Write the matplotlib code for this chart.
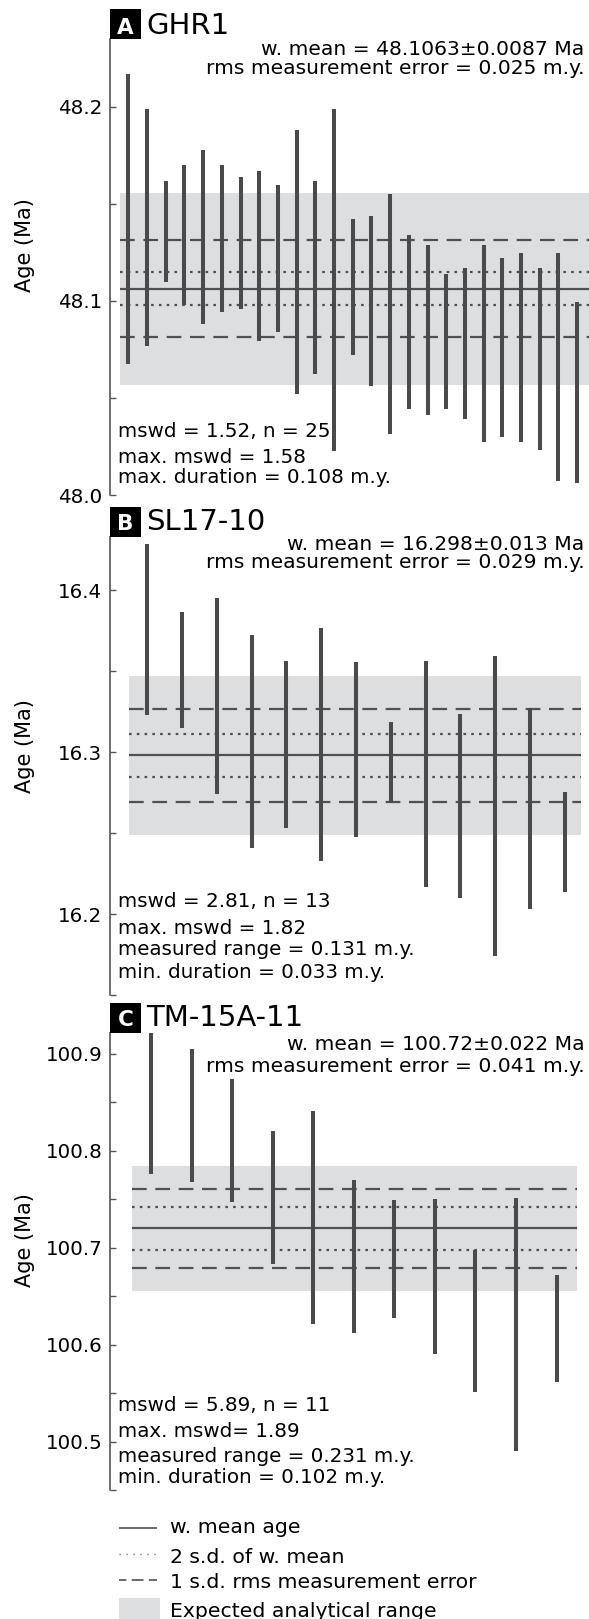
import matplotlib
matplotlib.use("Agg")
import matplotlib.pyplot as plt
from matplotlib.patches import Rectangle
from matplotlib.lines import Line2D

plt.rcParams['font.family'] = ['DejaVu Sans']
plt.rcParams['lines.scale_dashes'] = False

# ---------------- data ----------------
ghr1_upper = [48.2168, 48.1988, 48.1617, 48.1700, 48.1777, 48.1700, 48.1638, 48.1669,
              48.1597, 48.1878, 48.1617, 48.1988, 48.1420, 48.1439, 48.1549, 48.1339,
              48.1288, 48.1138, 48.1168, 48.1288, 48.1219, 48.1248, 48.1168, 48.1248, 48.0996]
ghr1_lower = [48.0673, 48.0769, 48.1099, 48.0979, 48.0881, 48.0941, 48.0958, 48.0793,
              48.0841, 48.0520, 48.0622, 48.0228, 48.0721, 48.0561, 48.0313, 48.0441,
              48.0412, 48.0441, 48.0390, 48.0271, 48.0300, 48.0271, 48.0232, 48.0074, 48.0063]
ghr1_mean = 48.1063
ghr1_sd2 = 0.0087
ghr1_rms = 0.025
ghr1_band = [48.0567, 48.1557]
ghr1_major = [48.0, 48.1, 48.2]
ghr1_minor = [48.05, 48.15]
ghr1_ylim = [48.0, 48.2347]
ghr1_title = ["A", "GHR1"]
ghr1_head = ["w. mean = 48.1063±0.0087 Ma", "rms measurement error = 0.025 m.y."]
ghr1_stats = ["mswd = 1.52, n = 25", "max. mswd = 1.58", "max. duration = 0.108 m.y."]

sl17_upper = [16.4286, 16.3865, 16.3956, 16.3725, 16.3566, 16.3766, 16.3556, 16.3185,
              16.3566, 16.3237, 16.3597, 16.3276, 16.2756]
sl17_lower = [16.3229, 16.3148, 16.2740, 16.2410, 16.2530, 16.2330, 16.2478, 16.2688,
              16.2169, 16.2101, 16.1741, 16.2030, 16.2138]
sl17_mean = 16.298
sl17_sd2 = 0.013
sl17_rms = 0.029
sl17_band = [16.249, 16.347]
sl17_major = [16.2, 16.3, 16.4]
sl17_minor = [16.15, 16.25, 16.35]
sl17_ylim = [16.15, 16.433]
sl17_title = ["B", "SL17-10"]
sl17_head = ["w. mean = 16.298±0.013 Ma", "rms measurement error = 0.029 m.y."]
sl17_stats = ["mswd = 2.81, n = 13", "max. mswd = 1.82", "measured range = 0.131 m.y.",
              "min. duration = 0.033 m.y."]

tm15_upper = [100.9212, 100.9047, 100.8737, 100.8207, 100.8410, 100.7698, 100.7492,
              100.7499, 100.6976, 100.7510, 100.6718]
tm15_lower = [100.7757, 100.7675, 100.7468, 100.6832, 100.6213, 100.6123, 100.6271,
              100.5903, 100.5511, 100.4905, 100.5617]
tm15_mean = 100.72
tm15_sd2 = 0.022
tm15_rms = 0.041
tm15_band = [100.6556, 100.7846]
tm15_major = [100.5, 100.6, 100.7, 100.8, 100.9]
tm15_minor = [100.45, 100.55, 100.65, 100.75, 100.85]
tm15_ylim = [100.45, 100.9212]
tm15_title = ["C", "TM-15A-11"]
tm15_head = ["w. mean = 100.72±0.022 Ma", "rms measurement error = 0.041 m.y."]
tm15_stats = ["mswd = 5.89, n = 11", "max. mswd= 1.89", "measured range = 0.231 m.y.",
              "min. duration = 0.102 m.y."]

legend_labels = ["w. mean age", "2 s.d. of w. mean", "1 s.d. rms measurement error",
                 "Expected analytical range"]

# ---------------- layout (pixels) ----------------
W, H = 589, 1619
BAR_C = '#4a4a4a'
LINE_C = '#505050'
BAND_C = '#dddee0'
SPINE_C = '#555555'
FS = 14.3


def fx(p):
    return p / W


def fy(p):
    return 1 - p / H


panels = [
    dict(upper=ghr1_upper, lower=ghr1_lower, mean=ghr1_mean, sd2=ghr1_sd2, rms=ghr1_rms,
         band=ghr1_band, major=ghr1_major, minor=ghr1_minor, ylim=ghr1_ylim,
         title=ghr1_title, head=ghr1_head, stats=ghr1_stats,
         top=39.3, bottom=495, first=128.3, step=18.7, bandpx=(119.6, 589),
         boxtop=9.3, tbase=33.5, hbase=(55, 74), sbase=(437.3, 463.3, 482.7), ylab=245),
    dict(upper=sl17_upper, lower=sl17_lower, mean=sl17_mean, sd2=sl17_sd2, rms=sl17_rms,
         band=sl17_band, major=sl17_major, minor=sl17_minor, ylim=sl17_ylim,
         title=sl17_title, head=sl17_head, stats=sl17_stats,
         top=537, bottom=995, first=147.2, step=34.8, bandpx=(129.4, 581),
         boxtop=507, tbase=530, hbase=(550, 568), sbase=(907.3, 934.3, 955.3, 978.3), ylab=746),
    dict(upper=tm15_upper, lower=tm15_lower, mean=tm15_mean, sd2=tm15_sd2, rms=tm15_rms,
         band=tm15_band, major=tm15_major, minor=tm15_minor, ylim=tm15_ylim,
         title=tm15_title, head=tm15_head, stats=tm15_stats,
         top=1033.3, bottom=1490, first=151, step=40.55, bandpx=(132, 577),
         boxtop=1003.3, tbase=1026.5, hbase=(1050, 1072.5), sbase=(1410.7, 1436.7, 1461.7, 1483.3),
         ylab=1240),
]

fig = plt.figure(figsize=(W / 100, H / 100), dpi=100)
AX_L, AX_R = 110, 589

for p in panels:
    ax = fig.add_axes([fx(AX_L), fy(p['bottom']), (AX_R - AX_L) / W, (p['bottom'] - p['top']) / H])
    ax.patch.set_alpha(0)
    n = len(p['upper'])
    xs = list(range(1, n + 1))
    x0 = 1 - (p['first'] - AX_L) / p['step']
    x1 = x0 + (AX_R - AX_L) / p['step']
    ax.set_xlim(x0, x1)
    ax.set_ylim(*p['ylim'])
    bx0 = x0 + (p['bandpx'][0] - AX_L) / p['step']
    bx1 = x0 + (p['bandpx'][1] - AX_L) / p['step']
    ax.fill_between([bx0, bx1], p['band'][0], p['band'][1], color=BAND_C, lw=0, zorder=1)
    m, s, r = p['mean'], p['sd2'], p['rms']
    ax.plot([bx0, bx1], [m, m], color=LINE_C, lw=1.6, zorder=2, solid_capstyle='butt')
    for v in (m + s, m - s):
        ax.plot([bx0, bx1], [v, v], color=LINE_C, lw=1.6, ls=(0, (1.9, 3.7)), zorder=2,
                dash_capstyle='butt')
    for v in (m + r, m - r):
        ax.plot([bx0, bx1], [v, v], color=LINE_C, lw=1.6, ls=(0, (10.6, 6.2)), zorder=2,
                dash_capstyle='butt')
    ax.vlines(xs, p['lower'], p['upper'], colors=BAR_C, lw=2.9, zorder=3,
              capstyle='butt', clip_on=False)
    for sp in ('top', 'right', 'bottom'):
        ax.spines[sp].set_visible(False)
    ax.spines['left'].set_color(SPINE_C)
    ax.spines['left'].set_linewidth(1.2)
    ax.set_xticks([])
    ax.set_yticks(p['major'])
    ax.set_yticklabels([f"{v:.1f}" for v in p['major']])
    ax.set_yticks(p['minor'], minor=True)
    ax.tick_params(axis='y', which='both', direction='in', length=4.3, width=1.0,
                   color=SPINE_C, labelsize=FS, pad=5.5)

    # title box and title
    fig.patches.append(Rectangle((fx(110), fy(p['top'])), 31 / W, (p['top'] - p['boxtop']) / H,
                                 transform=fig.transFigure, facecolor='black', edgecolor='none'))
    fig.text(fx(125.5), fy(p['tbase']), p['title'][0], color='white', fontweight='bold',
             fontsize=15.5, ha='center', va='baseline')
    fig.text(fx(146), fy(p['tbase']), p['title'][1], fontsize=21, ha='left', va='baseline')
    for txt, b in zip(p['head'], p['hbase']):
        fig.text(fx(584.5), fy(b), txt, fontsize=14.6, ha='right', va='baseline')
    for txt, b in zip(p['stats'], p['sbase']):
        fig.text(fx(117.7), fy(b), txt, fontsize=FS, ha='left', va='baseline')
    fig.text(fx(25), fy(p['ylab']), 'Age (Ma)', fontsize=15, rotation=90,
             ha='center', va='center')

# ---------------- legend ----------------
LX0, LX1 = 119.3, 156.7
fig.add_artist(Line2D([fx(LX0), fx(LX1)], [fy(1527.7)] * 2, transform=fig.transFigure,
                      color=LINE_C, lw=1.2, solid_capstyle='butt'))
fig.add_artist(Line2D([fx(LX0), fx(LX1)], [fy(1554)] * 2, transform=fig.transFigure,
                      color='#777777', lw=1.0, ls=(0, (1.0, 4.0)), dash_capstyle='butt'))
fig.add_artist(Line2D([fx(LX0), fx(LX1)], [fy(1580)] * 2, transform=fig.transFigure,
                      color=LINE_C, lw=1.2, ls=(3.1, (8.4, 3.9)), dash_capstyle='butt'))
fig.patches.append(Rectangle((fx(119.3), fy(1619)), (160 - 119.3) / W, (1619 - 1598) / H,
                             transform=fig.transFigure, facecolor=BAND_C, edgecolor='none'))
for txt, b in zip(legend_labels, (1533.3, 1563.3, 1588.3, 1616.7)):
    fig.text(fx(170), fy(b), txt, fontsize=14.7, ha='left', va='baseline')

fig.savefig('out.png', dpi=100)
